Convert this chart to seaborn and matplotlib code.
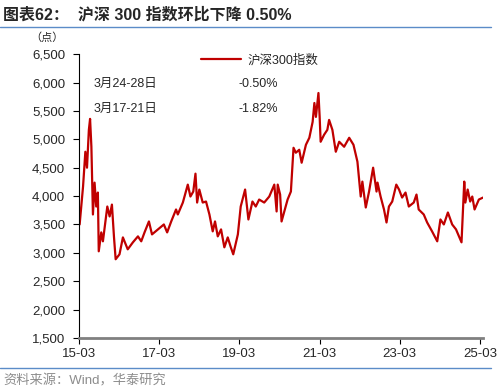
import pandas as pd
import numpy as np
import matplotlib.pyplot as plt
from matplotlib.lines import Line2D
import seaborn as sns

# readings taken off the reference chart
dates = ["2015-03-02", "2015-03-07", "2015-04-07", "2015-04-28", "2015-05-13", "2015-05-30",
         "2015-06-10", "2015-06-22", "2015-07-06", "2015-07-21", "2015-08-05", "2015-08-20",
         "2015-08-28", "2015-09-20", "2015-10-05", "2015-11-14", "2015-12-05", "2015-12-26",
         "2016-01-14", "2016-01-29", "2016-03-04", "2016-04-04", "2016-05-18", "2016-07-04",
         "2016-08-19", "2016-09-18", "2016-10-18", "2016-11-27", "2016-12-25", "2017-02-18",
         "2017-04-12", "2017-05-12", "2017-06-18", "2017-08-01", "2017-08-17", "2017-10-02",
         "2017-11-16", "2017-12-10", "2018-01-05", "2018-01-25", "2018-02-09", "2018-03-01",
         "2018-04-01", "2018-05-01", "2018-06-01", "2018-07-01", "2018-07-22", "2018-08-16",
         "2018-09-15", "2018-10-15", "2018-11-15", "2018-12-10", "2019-01-04", "2019-02-15",
         "2019-03-13", "2019-04-22", "2019-05-22", "2019-06-28", "2019-07-28", "2019-08-28",
         "2019-10-13", "2019-11-28", "2020-01-13", "2020-02-03", "2020-02-13", "2020-03-06",
         "2020-03-19", "2020-04-13", "2020-05-13", "2020-06-12", "2020-07-06", "2020-07-27",
         "2020-08-27", "2020-09-18", "2020-10-27", "2020-11-27", "2020-12-27", "2021-01-12",
         "2021-01-26", "2021-02-18", "2021-03-01", "2021-03-10", "2021-04-10", "2021-05-10",
         "2021-05-26", "2021-06-25", "2021-07-26", "2021-08-26", "2021-10-10", "2021-11-25",
         "2022-01-03", "2022-02-08", "2022-03-10", "2022-03-25", "2022-04-25", "2022-05-25",
         "2022-07-01", "2022-08-01", "2022-08-10", "2022-09-07", "2022-10-08", "2022-10-31",
         "2022-11-22", "2022-12-22", "2023-01-28", "2023-02-22", "2023-03-22", "2023-04-22",
         "2023-05-22", "2023-07-06", "2023-07-31", "2023-08-20", "2023-10-05", "2023-11-05",
         "2023-12-20", "2024-02-05", "2024-03-05", "2024-04-05", "2024-05-12", "2024-06-20",
         "2024-07-25", "2024-09-13", "2024-10-08", "2024-10-18", "2024-11-08", "2024-12-01",
         "2024-12-20", "2025-01-10", "2025-02-18", "2025-03-28"]
csi300 = [3500, 3500, 4167, 4781, 4500, 5167,
          5360, 4870, 3676, 4237, 3816, 4062,
          3027, 3360, 3203, 3816, 3641, 3850,
          3272, 2887, 2974, 3272, 3062, 3185,
          3290, 3203, 3360, 3553, 3325, 3413,
          3500, 3360, 3553, 3764, 3676, 3886,
          4202, 3992, 4080, 4395, 3886, 4115,
          3886, 3904, 3676, 3378, 3553, 3290,
          3413, 3097, 3272, 3115, 2974, 3325,
          3816, 4115, 3588, 3904, 3816, 3939,
          3886, 3992, 4202, 3729, 4202, 4027,
          3553, 3729, 3939, 4080, 4851, 4764,
          4816, 4588, 4904, 5027, 5307, 5640,
          5395, 5816, 5395, 4957, 5079, 5167,
          5342, 5167, 4781, 4957, 4869, 5027,
          4904, 4606, 3992, 4255, 3799, 4080,
          4500, 4080, 4237, 3992, 3764, 3535,
          3816, 3904, 4202, 4115, 3974, 4062,
          3816, 3886, 4027, 3764, 3676, 3535,
          3378, 3203, 3588, 3500, 3711, 3500,
          3413, 3185, 4255, 3886, 4115, 3904,
          3992, 3764, 3939, 3974]

xtick_dates = ["2015-03-01", "2017-03-01", "2019-03-01", "2021-03-01", "2023-03-01", "2025-03-01"]
xtick_labels = ["15-03", "17-03", "19-03", "21-03", "23-03", "25-03"]
yticks = [1500, 2000, 2500, 3000, 3500, 4000, 4500, 5000, 5500, 6000, 6500]

periods = ["3月24-28日", "3月17-21日"]
changes = ["-0.50%", "-1.82%"]

df = pd.DataFrame({"date": pd.to_datetime(dates), "value": csi300})

sns.set_style("ticks")
plt.rcParams["font.family"] = ["Liberation Sans", "Noto Sans CJK SC", "DejaVu Sans"]

fig = plt.figure(figsize=(4.98, 3.92), dpi=100)
ax = fig.add_axes([0.1586, 0.1378, 0.812, 0.724])

red = "#C00000"
sns.lineplot(data=df, x="date", y="value", ax=ax, color=red, linewidth=1.6, label="沪深300指数")

ax.set_ylim(1500, 6500)
ax.set_yticks(yticks)
ax.set_yticklabels([f"{v:,}" for v in yticks], fontsize=9.5)
ax.set_xlim(pd.Timestamp("2015-03-01"), pd.Timestamp("2025-03-31"))
ax.set_xticks(pd.to_datetime(xtick_dates))
ax.set_xticklabels(xtick_labels, fontsize=9.5)
ax.set_xlabel("")
ax.set_ylabel("")

for s in ["top", "right"]:
    ax.spines[s].set_visible(False)
ax.spines["left"].set_color("black")
ax.spines["left"].set_linewidth(0.8)
ax.spines["bottom"].set_color("#808080")
ax.spines["bottom"].set_linewidth(2)
ax.tick_params(axis="y", length=4, width=0.8, color="black", pad=6)
ax.tick_params(axis="x", length=4, width=0.8, color="black", pad=3)

ax.legend(loc="upper left", bbox_to_anchor=(0.275, 1.04), frameon=False, fontsize=9,
          handlelength=3.2, handletextpad=0.5)

# weekly change notes
for i, (p, c) in enumerate(zip(periods, changes)):
    yy = 0.895 - i * 0.088
    ax.text(0.035, yy, p, transform=ax.transAxes, fontsize=9, va="center")
    ax.text(0.395, yy, c, transform=ax.transAxes, fontsize=9, va="center")

fig.text(0.06, 0.903, "（点）", fontsize=8, va="center")

fig.text(0.006, 0.963, "图表62：  沪深 300 指数环比下降 0.50%", fontsize=11.5,
         fontweight="bold", va="center")
fig.add_artist(Line2D([0.0, 0.985], [0.93, 0.93], color="#5B8CC8", linewidth=1))
fig.add_artist(Line2D([0.0, 0.985], [0.061, 0.061], color="#5B8CC8", linewidth=1))
fig.text(0.006, 0.028, "资料来源：Wind，华泰研究", fontsize=9.5, color="#8C8C8C", va="center")

fig.savefig("out.png", dpi=100)
